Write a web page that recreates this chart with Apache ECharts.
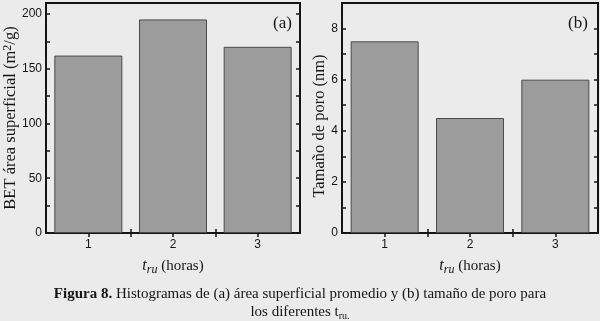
<!DOCTYPE html>
<html>
<head>
<meta charset="utf-8">
<script src="https://cdn.jsdelivr.net/npm/echarts@6/dist/echarts.min.js"></script>
<style>
  html, body {margin: 0; padding: 0; background: #ebebeb;}
  #chart {width: 600px; height: 321px;}
</style>
</head>
<body>
<div id="chart"></div>
<script>
// data
var horas = [1, 2, 3];
var areaBET = [162, 195, 170];
var tamanoPoro = [7.5, 4.5, 6.0];
var labelsA = [0, 50, 100, 150, 200];
var ticksA = [0, 25, 50, 75, 100, 125, 150, 175, 200];
var labelsB = [0, 2, 4, 6, 8];
var ticksB = [0, 1, 2, 3, 4, 5, 6, 7, 8];
var labelsX = [1, 2, 3];
var ticksX = [1, 1.5, 2, 2.5, 3];

var serif = '"Liberation Serif", "DejaVu Serif", serif';
var sans = '"Liberation Sans", Arial, sans-serif';
var ink = '#151515';

var myChart = echarts.init(document.getElementById('chart'));

function xAx(grid, top) {
  return {
    type: 'value', gridIndex: grid, min: 0.5, max: 3.5,
    position: top ? 'top' : 'bottom',
    splitLine: {show: false},
    axisLine: {show: false},
    axisTick: {inside: true, length: 4, lineStyle: {color: ink, width: 1.5}, customValues: ticksX},
    axisLabel: top ? {show: false} : {
      customValues: labelsX, color: ink, fontFamily: sans, fontSize: 12, margin: 6
    },
    name: top ? '' : '{it|t}{sub|ru} (horas)',
    nameLocation: 'middle',
    nameGap: 23,
    nameMoveOverlap: false,
    nameTextStyle: {
      fontFamily: serif, fontSize: 15, color: ink,
      rich: {
        it: {fontFamily: serif, fontStyle: 'italic', fontSize: 16, color: ink, lineHeight: 20, verticalAlign: 'middle'},
        sub: {fontFamily: serif, fontStyle: 'italic', fontSize: 12, color: ink, lineHeight: 20, verticalAlign: 'bottom'}
      }
    }
  };
}

function yAx(grid, right, max, labels, ticks, name, gap, pad) {
  return {
    type: 'value', gridIndex: grid, min: 0, max: max,
    position: right ? 'right' : 'left',
    splitLine: {show: false},
    axisLine: {show: false},
    axisTick: {inside: true, length: 4, lineStyle: {color: ink, width: 1.5}, customValues: ticks},
    axisLabel: right ? {show: false} : {
      customValues: labels, color: ink, fontFamily: sans, fontSize: 12, margin: 4
    },
    name: right ? '' : name,
    nameLocation: 'middle',
    nameGap: gap,
    nameMoveOverlap: false,
    nameTextStyle: {
      fontFamily: serif, fontSize: 16.5, color: ink,
      padding: pad || 0,
      rich: {
        sup: {fontFamily: serif, fontSize: 12, color: ink, lineHeight: 18, verticalAlign: 'top'}
      }
    }
  };
}

function barSeries(x, y, vals) {
  return {
    type: 'bar', xAxisIndex: x, yAxisIndex: y,
    barWidth: 68,
    data: horas.map(function (h, i) { return [h, vals[i]]; }),
    itemStyle: {color: '#9c9c9c', borderColor: '#4a4a4a', borderWidth: 1},
    silent: true
  };
}

myChart.setOption({
  backgroundColor: '#ebebeb',
  animation: false,
  grid: [
    {left: 46, top: 3, width: 254, height: 230, show: true, borderColor: ink, borderWidth: 2, backgroundColor: '#ebebeb'},
    {left: 342, top: 3, width: 256, height: 230, show: true, borderColor: ink, borderWidth: 2, backgroundColor: '#ebebeb'}
  ],
  xAxis: [xAx(0, false), xAx(0, true), xAx(1, false), xAx(1, true)],
  yAxis: [
    yAx(0, false, 210, labelsA, ticksA, 'BET área superficial (m{sup|2}/g)', 26),
    yAx(0, true, 210, labelsA, ticksA, '', 0),
    yAx(1, false, 9, labelsB, ticksB, 'Tamaño de poro (nm)', 14, [0, 16, 0, 0]),
    yAx(1, true, 9, labelsB, ticksB, '', 0)
  ],
  series: [
    barSeries(0, 0, areaBET),
    barSeries(2, 2, tamanoPoro)
  ],
  graphic: [
    {type: 'text', left: 273, top: 15, style: {text: '(a)', font: '17px ' + serif, fill: ink}},
    {type: 'text', left: 568, top: 15, style: {text: '(b)', font: '17px ' + serif, fill: ink}},
    {
      type: 'text', left: 'center', top: 287,
      style: {
        text: '{b|Figura 8.} Histogramas de (a) área superficial promedio y (b) tamaño de poro para',
        font: '15px ' + serif, fill: ink,
        rich: {b: {fontFamily: serif, fontSize: 15, fontWeight: 'bold', fill: ink}}
      }
    },
    {
      type: 'text', left: 'center', top: 305,
      style: {
        text: 'los diferentes t{s|ru.}',
        font: '15px ' + serif, fill: ink,
        rich: {s: {fontFamily: serif, fontSize: 10, fill: ink, lineHeight: 17, verticalAlign: 'bottom'}}
      }
    }
  ]
});
</script>
</body>
</html>
